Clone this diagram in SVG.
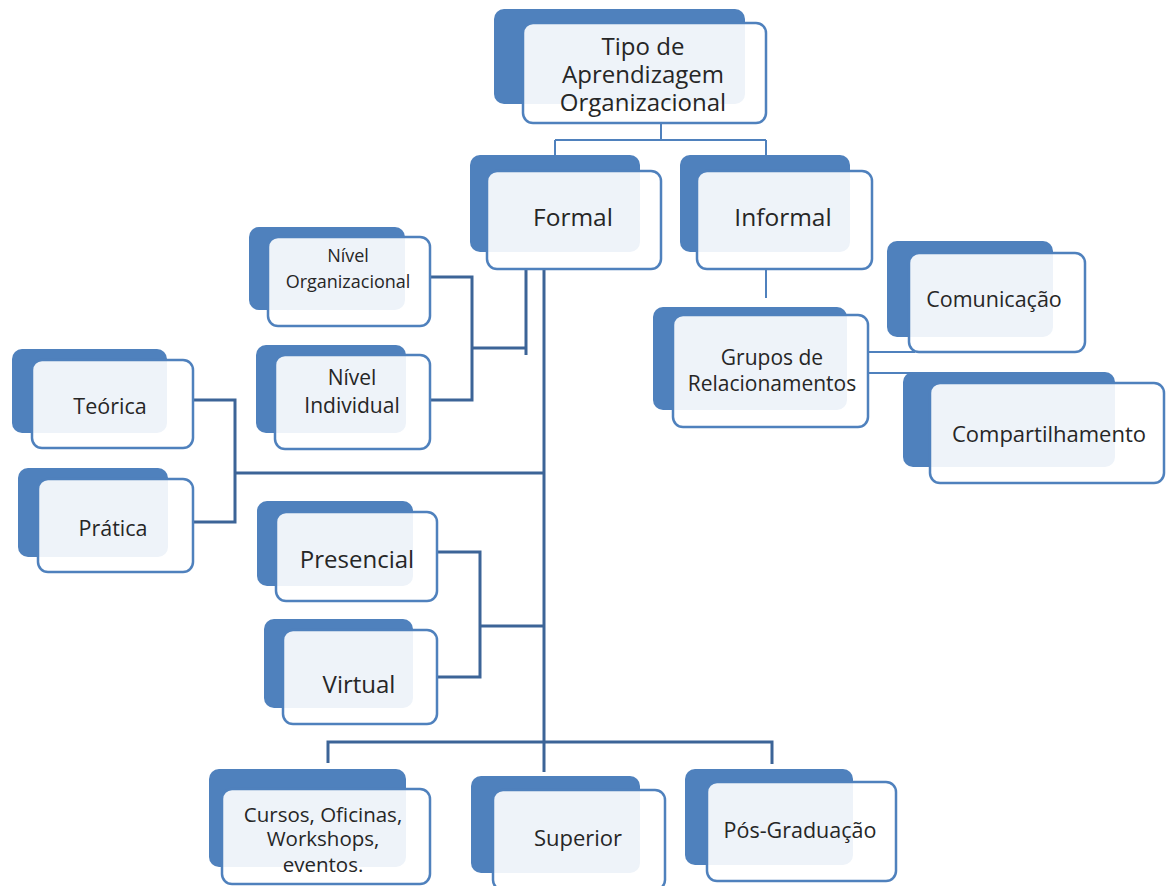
<svg xmlns="http://www.w3.org/2000/svg" width="1173" height="886" viewBox="0 0 1173 886">
<style>
.bk{fill:#4f81bd;}
.fr{fill:#ffffff;fill-opacity:0.9;stroke:#4f81bd;stroke-width:2.5;}
.t{font-family:"Open Sans",Lato,sans-serif;fill:#262626;text-anchor:middle;}
.c{fill:none;stroke:#3c6497;stroke-width:3;}
.c2{fill:none;stroke:#4f81bd;stroke-width:2;}
</style>
<rect width="1173" height="886" fill="#ffffff"/>
<g id="connectors">
<path class="c2" d="M661 123V140M555 140H766M555 140V156M766 140V156"/>
<path class="c2" d="M766 269V298"/>
<path class="c2" d="M868 352H915M868 373H920"/>
<path class="c" d="M544 269V772"/>
<path class="c" d="M526 269V355M472 348H526M430 277H472V400H430"/>
<path class="c" d="M193 400H235V522H193M235 473H544"/>
<path class="c" d="M437 552H480V677H437M480 626H544"/>
<path class="c" d="M328 763V742H772V764"/>
</g>
<g id="n-tipo">
<rect class="bk" x="494" y="9" width="251" height="95" rx="10"/>
<rect class="fr" x="523" y="23" width="243" height="100" rx="10"/>
<text class="t" font-size="24" x="643" y="55">Tipo de</text>
<text class="t" font-size="24" x="643" y="83">Aprendizagem</text>
<text class="t" font-size="24" x="643" y="111">Organizacional</text>
</g>
<g id="n-formal">
<rect class="bk" x="470" y="155" width="170" height="97" rx="10"/>
<rect class="fr" x="487" y="171" width="174" height="98" rx="10"/>
<text class="t" font-size="24.5" x="573" y="226">Formal</text>
</g>
<g id="n-informal">
<rect class="bk" x="680" y="155" width="170" height="97" rx="10"/>
<rect class="fr" x="697" y="171" width="175" height="98" rx="10"/>
<text class="t" font-size="24.5" x="783" y="226">Informal</text>
</g>
<g id="n-grupos">
<rect class="bk" x="653" y="307" width="194" height="103" rx="10"/>
<rect class="fr" x="673" y="315" width="195" height="112" rx="10"/>
<text class="t" font-size="21" x="772" y="365">Grupos de</text>
<text class="t" font-size="21" x="772" y="391">Relacionamentos</text>
</g>
<g id="n-comunicacao">
<rect class="bk" x="887" y="241" width="166" height="96" rx="10"/>
<rect class="fr" x="909" y="253" width="176" height="99" rx="10"/>
<text class="t" font-size="21.5" x="994" y="307">Comunicação</text>
</g>
<g id="n-compartilhamento">
<rect class="bk" x="903" y="372" width="212" height="95" rx="10"/>
<rect class="fr" x="930" y="383" width="234" height="100" rx="10"/>
<text class="t" font-size="22" x="1049" y="442">Compartilhamento</text>
</g>
<g id="n-nivel-org">
<rect class="bk" x="249" y="227" width="156" height="83" rx="10"/>
<rect class="fr" x="268" y="237" width="162" height="89" rx="10"/>
<text class="t" font-size="18" x="348" y="262">Nível</text>
<text class="t" font-size="18" x="348" y="288">Organizacional</text>
</g>
<g id="n-nivel-ind">
<rect class="bk" x="256" y="345" width="150" height="88" rx="10"/>
<rect class="fr" x="275" y="355" width="155" height="94" rx="10"/>
<text class="t" font-size="21" x="352" y="385">Nível</text>
<text class="t" font-size="21" x="352" y="413">Individual</text>
</g>
<g id="n-teorica">
<rect class="bk" x="12" y="349" width="155" height="84" rx="10"/>
<rect class="fr" x="32" y="360" width="161" height="88" rx="10"/>
<text class="t" font-size="21.5" x="110" y="414">Teórica</text>
</g>
<g id="n-pratica">
<rect class="bk" x="18" y="468" width="150" height="89" rx="10"/>
<rect class="fr" x="38" y="479" width="155" height="93" rx="10"/>
<text class="t" font-size="21.5" x="113" y="536">Prática</text>
</g>
<g id="n-presencial">
<rect class="bk" x="257" y="501" width="156" height="85" rx="10"/>
<rect class="fr" x="276" y="512" width="161" height="89" rx="10"/>
<text class="t" font-size="24" x="357" y="568">Presencial</text>
</g>
<g id="n-virtual">
<rect class="bk" x="264" y="619" width="149" height="89" rx="10"/>
<rect class="fr" x="283" y="630" width="154" height="94" rx="10"/>
<text class="t" font-size="24" x="359" y="693">Virtual</text>
</g>
<g id="n-cursos">
<rect class="bk" x="209" y="769" width="197" height="98" rx="10"/>
<rect class="fr" x="222" y="789" width="208" height="95" rx="10"/>
<text class="t" font-size="20.5" x="323" y="822">Cursos, Oficinas,</text>
<text class="t" font-size="20.5" x="323" y="846">Workshops,</text>
<text class="t" font-size="20.5" x="323" y="872">eventos.</text>
</g>
<g id="n-superior">
<rect class="bk" x="471" y="776" width="169" height="97" rx="10"/>
<rect class="fr" x="493" y="790" width="172" height="100" rx="10"/>
<text class="t" font-size="22" x="578" y="846">Superior</text>
</g>
<g id="n-pos">
<rect class="bk" x="685" y="769" width="168" height="96" rx="10"/>
<rect class="fr" x="707" y="782" width="189" height="99" rx="10"/>
<text class="t" font-size="21.5" x="800" y="838">Pós-Graduação</text>
</g>
</svg>
